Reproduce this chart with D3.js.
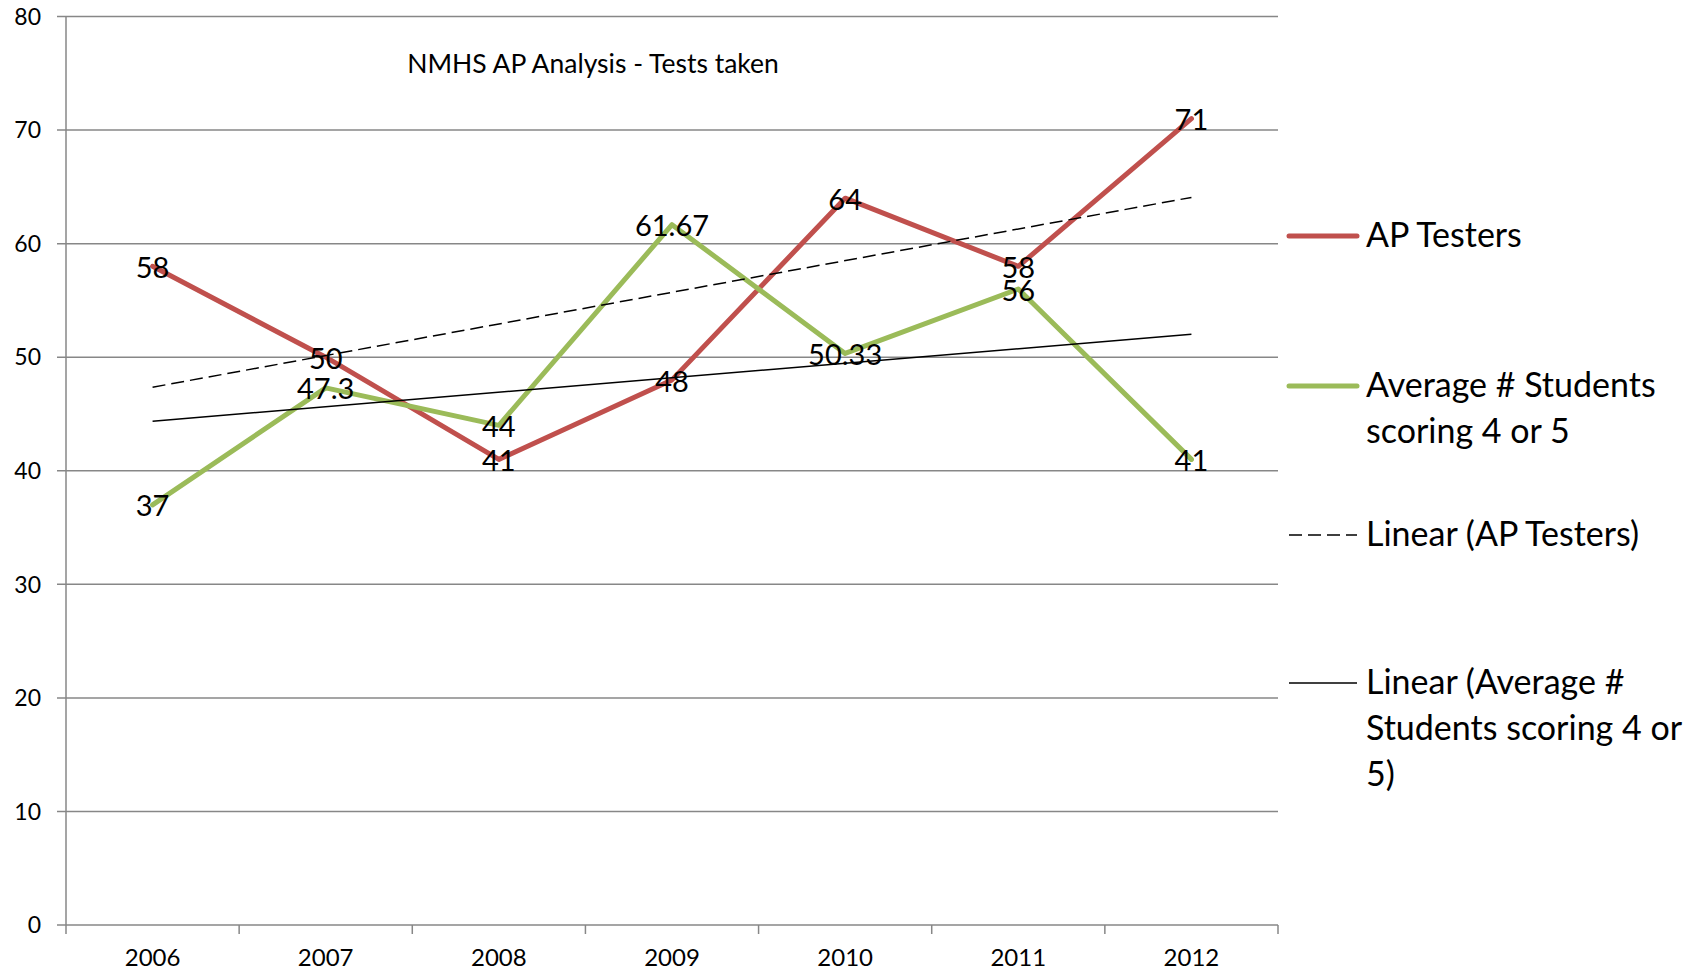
<!DOCTYPE html>
<meta charset="utf-8">
<style>
  body { margin: 0; background: #fff; }
  text { font-family: Lato, "Open Sans", sans-serif; fill: #000; }
</style>
<script src="https://d3js.org/d3.v7.min.js"></script>
<svg id="chart" width="1702" height="973"></svg>
<script>
  // Data
  var years = ["2006", "2007", "2008", "2009", "2010", "2011", "2012"];
  var apTesters = [58, 50, 41, 48, 64, 58, 71];
  var avgStudents = [37, 47.3, 44, 61.67, 50.33, 56, 41];
  var yTicks = [0, 10, 20, 30, 40, 50, 60, 70, 80];
  var title = "NMHS AP Analysis - Tests taken";

  var svg = d3.select("#chart");

  var plotLeft = 66, plotRight = 1278, plotTop = 16.5, plotBottom = 925;

  var x = d3.scaleBand().domain(years).range([plotLeft, plotRight]);
  var y = d3.scaleLinear().domain([0, 80]).range([plotBottom, plotTop]);
  var cx = function(d) { return x(d) + x.bandwidth() / 2; };

  // gridlines + y labels
  svg.append("g").selectAll("line")
    .data(yTicks)
    .enter().append("line")
    .attr("x1", plotLeft - 9).attr("x2", plotRight)
    .attr("y1", d => y(d)).attr("y2", d => y(d))
    .attr("stroke", "#878787").attr("stroke-width", 1.5);

  svg.append("g").selectAll("text")
    .data(yTicks)
    .enter().append("text")
    .attr("x", 41).attr("y", d => y(d))
    .attr("dy", "0.36em")
    .attr("text-anchor", "end")
    .style("font-size", "23px")
    .text(d => d);

  // y axis line
  svg.append("line")
    .attr("x1", plotLeft).attr("x2", plotLeft)
    .attr("y1", plotTop).attr("y2", plotBottom)
    .attr("stroke", "#878787").attr("stroke-width", 1.5);

  // x ticks at band edges
  var edges = years.map(d => x(d)).concat([plotRight]);
  svg.append("g").selectAll("line")
    .data(edges)
    .enter().append("line")
    .attr("x1", d => d).attr("x2", d => d)
    .attr("y1", plotBottom).attr("y2", plotBottom + 9)
    .attr("stroke", "#878787").attr("stroke-width", 1.5);

  svg.append("g").selectAll("text")
    .data(years)
    .enter().append("text")
    .attr("x", cx).attr("y", 966)
    .attr("text-anchor", "middle")
    .style("font-size", "24px")
    .text(d => d);

  // title
  svg.append("text")
    .attr("x", 593).attr("y", 73)
    .attr("text-anchor", "middle")
    .style("font-size", "26.5px")
    .text(title);

  // series lines
  var line = d3.line().x((d, i) => cx(years[i])).y(d => y(d));

  svg.append("path").datum(apTesters)
    .attr("d", line).attr("fill", "none")
    .attr("stroke", "#C0504D").attr("stroke-width", 5)
    .attr("stroke-linejoin", "round").attr("stroke-linecap", "round");

  svg.append("path").datum(avgStudents)
    .attr("d", line).attr("fill", "none")
    .attr("stroke", "#9BBB59").attr("stroke-width", 5)
    .attr("stroke-linejoin", "round").attr("stroke-linecap", "round");

  // linear trend lines (least squares)
  function trend(vals) {
    var n = vals.length, mx = (n + 1) / 2, my = d3.mean(vals);
    var num = d3.sum(vals, (v, i) => (i + 1 - mx) * (v - my));
    var den = d3.sum(vals, (v, i) => (i + 1 - mx) * (i + 1 - mx));
    var b = num / den, a = my - b * mx;
    return [a + b, a + b * n];
  }
  function trendLine(vals, dash) {
    var t = trend(vals);
    svg.append("line")
      .attr("x1", cx(years[0])).attr("y1", y(t[0]))
      .attr("x2", cx(years[years.length - 1])).attr("y2", y(t[1]))
      .attr("stroke", "#000").attr("stroke-width", 1.5)
      .attr("stroke-dasharray", dash);
  }
  trendLine(apTesters, "13,6");
  trendLine(avgStudents, null);

  // data labels
  function labels(vals) {
    svg.append("g").selectAll("text")
      .data(vals)
      .enter().append("text")
      .attr("x", (d, i) => cx(years[i]))
      .attr("y", d => y(d))
      .attr("dy", "0.4em")
      .attr("text-anchor", "middle")
      .style("font-size", "29px")
      .text(d => String(d));
  }
  labels(apTesters);
  labels(avgStudents);

  // legend
  var legend = svg.append("g").style("font-size", "34px");
  function legendItem(ly, color, width, dash, lines, baseline) {
    legend.append("line")
      .attr("x1", 1289).attr("x2", 1357)
      .attr("y1", ly).attr("y2", ly)
      .attr("stroke", color).attr("stroke-width", width)
      .attr("stroke-linecap", width > 2 ? "round" : "butt")
      .attr("stroke-dasharray", dash);
    lines.forEach(function(t, i) {
      legend.append("text")
        .attr("x", 1366).attr("y", baseline + i * 46)
        .text(t);
    });
  }
  legendItem(236, "#C0504D", 5, null, ["AP Testers"], 247);
  legendItem(386, "#9BBB59", 5, null, ["Average # Students", "scoring 4 or 5"], 397);
  legendItem(535, "#000", 1.5, "13,6", ["Linear (AP Testers)"], 546);
  legendItem(683, "#000", 1.5, null, ["Linear (Average #", "Students scoring 4 or", "5)"], 694);
</script>
